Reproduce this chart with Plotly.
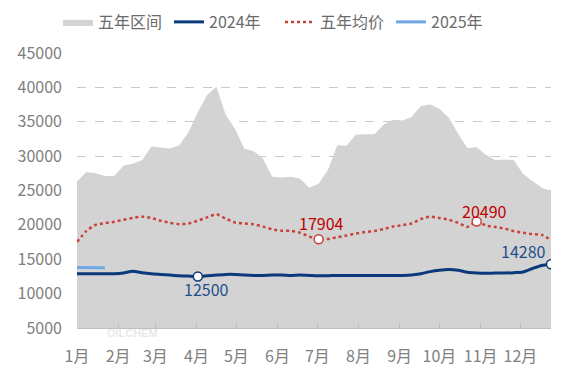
import pandas as pd
import plotly.graph_objects as go

# ---------------- data ----------------
weeks = pd.date_range("2025-01-01", periods=52, freq="7D")

range_upper = [26300, 27700, 27500, 27100, 27100, 28600, 28900, 29400, 31400, 31300,
               31100, 31600, 33500, 36400, 38900, 40100, 36000, 34000, 31100, 30700,
               29700, 27000, 26900, 27000, 26700, 25400, 26000, 28000, 31600, 31500,
               33100, 33200, 33200, 34600, 35300, 35200, 35700, 37300, 37500, 36900,
               35600, 33300, 31200, 31300, 30200, 29400, 29500, 29400, 27400, 26400,
               25400, 24900]

avg5 = [17500, 19100, 20000, 20250, 20450, 20750, 21000, 21200, 21000, 20600,
        20300, 20100, 20200, 20600, 21100, 21550, 20900, 20350, 20200, 20100,
        19750, 19350, 19150, 19150, 18850, 18300, 17904, 17950, 18200, 18450,
        18750, 18950, 19100, 19400, 19750, 19950, 20200, 20850, 21200, 21000,
        20750, 20300, 19700, 20490, 19900, 19700, 19450, 19100, 18850, 18650,
        18550, 17800]

y2024 = [12900, 12900, 12900, 12900, 12900, 13000, 13250, 13050, 12900, 12800,
         12700, 12600, 12550, 12500, 12600, 12700, 12800, 12800, 12700, 12650,
         12650, 12700, 12700, 12650, 12700, 12650, 12600, 12600, 12650, 12650,
         12650, 12650, 12650, 12650, 12650, 12650, 12700, 12900, 13200, 13400,
         13500, 13400, 13100, 13000, 12950, 13000, 13000, 13050, 13150, 13650,
         14100, 14280]

y2025 = [13800, 13800, 13750, 13750]

month_ticks = pd.date_range("2025-01-01", periods=12, freq="MS")
month_labels = ["1月", "2月", "3月", "4月", "5月", "6月", "7月", "8月", "9月", "10月", "11月", "12月"]

# labelled points: week index
label_2024 = [13, 51]
label_avg = [26, 43]

# ---------------- styles ----------------
FONT = "Noto Sans CJK SC, Microsoft YaHei, sans-serif"
GRAY_AREA = "#d3d3d3"
DARK_BLUE = "#0a3a7c"
LIGHT_BLUE = "#6fa8e6"
RED_DOT = "#c9423a"
RED_TXT = "#c00000"
BLUE_TXT = "#1f4e8c"

fig = go.Figure()

fig.add_trace(go.Scatter(
    x=weeks, y=range_upper, name="五年区间", mode="lines",
    fill="tozeroy", fillcolor=GRAY_AREA, line=dict(width=0, color=GRAY_AREA),
))
fig.add_trace(go.Scatter(
    x=weeks, y=y2024, name="2024年", mode="lines",
    line=dict(color=DARK_BLUE, width=3, shape="spline", smoothing=0.6),
))
fig.add_trace(go.Scatter(
    x=weeks, y=avg5, name="五年均价", mode="lines",
    line=dict(color=RED_DOT, width=2.5, dash="dot", shape="spline", smoothing=0.6),
))
fig.add_trace(go.Scatter(
    x=weeks[:len(y2025)], y=y2025, name="2025年", mode="lines",
    line=dict(color=LIGHT_BLUE, width=3),
))

fig.add_trace(go.Scatter(
    x=[weeks[i] for i in label_2024], y=[y2024[i] for i in label_2024],
    mode="markers", showlegend=False,
    marker=dict(size=9, color="white", line=dict(color=DARK_BLUE, width=1.5)),
))
fig.add_trace(go.Scatter(
    x=[weeks[i] for i in label_avg], y=[avg5[i] for i in label_avg],
    mode="markers", showlegend=False,
    marker=dict(size=9, color="white", line=dict(color=RED_DOT, width=1.5)),
))

annots = []
shifts_2024 = {13: (9, -13), 51: (-28, 13)}
for i in label_2024:
    dx, dy = shifts_2024[i]
    annots.append(dict(x=weeks[i], y=y2024[i], xref="x", yref="y", text=str(y2024[i]),
                       showarrow=False, xshift=dx, yshift=dy,
                       font=dict(family=FONT, size=16, color=BLUE_TXT)))
shifts_avg = {26: (3, 16), 43: (8, 11)}
for i in label_avg:
    dx, dy = shifts_avg[i]
    annots.append(dict(x=weeks[i], y=avg5[i], xref="x", yref="y", text=str(avg5[i]),
                       showarrow=False, xshift=dx, yshift=dy,
                       font=dict(family=FONT, size=16, color=RED_TXT)))
# faint watermark (kept clear of the tick labels)
annots.append(dict(x=0.06, y=-0.018, xref="paper", yref="paper", xanchor="left", yanchor="middle",
                   text="<b>OILCHEM</b>", showarrow=False,
                   font=dict(family="Arial, sans-serif", size=11, color="rgba(190,190,190,0.35)")))

fig.update_layout(
    width=567, height=378,
    margin=dict(l=69, r=24, t=45, b=58, autoexpand=False),
    paper_bgcolor="white", plot_bgcolor="white",
    font=dict(family=FONT, size=16, color="#808080"),
    showlegend=True,
    legend=dict(orientation="h", xref="container", yref="container",
                x=50 / 567, xanchor="left", y=0.963, yanchor="middle",
                font=dict(family=FONT, size=16, color="#6b6b6b"),
                entrywidth=66, entrywidthmode="pixels",
                tracegroupgap=0, bgcolor="rgba(0,0,0,0)"),
    annotations=annots,
    hovermode=False,
)

fig.update_xaxes(
    range=[weeks[0], weeks[-1]],
    tickvals=list(month_ticks), ticktext=month_labels,
    showgrid=False, showline=True, linecolor="#bfbfbf", linewidth=1,
    ticks="inside", ticklen=5, tickcolor="#bfbfbf",
    tickfont=dict(family=FONT, size=16, color="#808080"),
    ticklabelstandoff=14,
)
fig.update_yaxes(
    range=[5000, 45000], dtick=5000, tick0=5000, tickformat="d",
    showgrid=True, gridcolor="#c8c8c8", griddash="dash", gridwidth=1,
    zeroline=False, showline=False,
    tickfont=dict(family=FONT, size=16, color="#808080"),
    ticklabelstandoff=14,
)

fig.write_html("out.html")
